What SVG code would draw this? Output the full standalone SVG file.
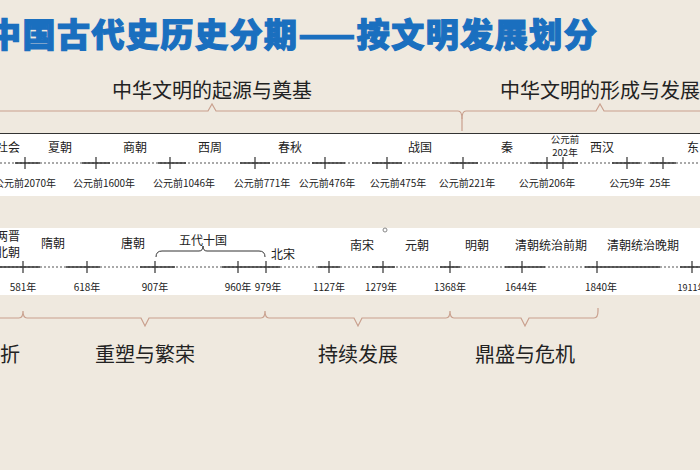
<svg xmlns="http://www.w3.org/2000/svg" width="700" height="470" viewBox="0 0 700 470">
<style>
.t{font-family:"Noto Sans CJK SC",sans-serif;fill:#222}
.nm{font-size:12px;text-anchor:middle}
.yr{font-size:10px;text-anchor:middle}
.sec{font-size:20px;text-anchor:middle}
.ax{stroke:#333;stroke-width:1.3}
.dot{stroke:#555;stroke-width:1.2;stroke-dasharray:2 2}
.tk{stroke:#333;stroke-width:1.2}
.br{fill:none;stroke:#c9a08e;stroke-width:1.2}
</style>
<rect width="700" height="470" fill="#efe9df"/>
<text x="-12" y="47" font-family="Noto Sans CJK SC,sans-serif" font-weight="900" font-size="33" letter-spacing="1.5" fill="#1a6fbf" stroke="#1a6fbf" stroke-width="1.2">中国古代史历史分期——按文明发展划分</text>
<g id="top-band">
<rect x="0" y="133" width="700" height="63" fill="#fff"/>
<line x1="0" y1="133.5" x2="700" y2="133.5" stroke="#333" stroke-width="1.2"/>
<line class="dot" x1="0" y1="163" x2="700" y2="163"/>
<path class="ax" d="M15 163H40M82 163H110M158 163H186M240 163H270M312 163H345M372 163H402M450 163H478M530 163H578M612 163H640M650 163H676"/>
<path class="tk" d="M25 157V169M96 157V169M170 157V169M255 157V169M325 157V169M387 157V169M463 157V169M547 157V169M563 157V169M627 157V169M663 157V169"/>
<g class="t nm">
<text x="8" y="152">社会</text><text x="60" y="152">夏朝</text><text x="135" y="152">商朝</text><text x="210" y="152">西周</text><text x="290" y="152">春秋</text><text x="420" y="152">战国</text><text x="507" y="152">秦</text><text x="565" y="143" font-size="9.5">公元前</text><text x="565" y="156" font-size="9.5">202年</text><text x="602" y="152">西汉</text><text x="693" y="152">东</text>
</g>
<g class="t yr">
<text x="25" y="187">公元前2070年</text><text x="104" y="187">公元前1600年</text><text x="184" y="187">公元前1046年</text><text x="262" y="187">公元前771年</text><text x="327" y="187">公元前476年</text><text x="398" y="187">公元前475年</text><text x="467" y="187">公元前221年</text><text x="547" y="187">公元前206年</text><text x="627" y="187">公元9年</text><text x="660" y="187">25年</text>
</g>
</g>
<g id="bottom-band">
<rect x="0" y="228" width="700" height="67" fill="#fff"/>
<line class="dot" x1="0" y1="267" x2="700" y2="267"/>
<path class="ax" d="M0 267H40M66 267H100M140 267H175M222 267H280M318 267H340M372 267H395M440 267H460M505 267H545M585 267H660M680 267H700"/>
<path class="tk" d="M23 261V273M87 261V273M155 261V273M238 261V273M266 261V273M329 261V273M383 261V273M450 261V273M522 261V273M597 261V273M692 261V273"/>
<path d="M156 257q0-6 6-6h37q4 0 4-5q0 5 4 5h52q6 0 6 6" fill="none" stroke="#333" stroke-width="1"/>
<circle cx="385" cy="230" r="2" fill="none" stroke="#888"/>
<g class="t nm">
<text x="8" y="241">两晋</text><text x="8" y="257">北朝</text><text x="53" y="248">隋朝</text><text x="133" y="248">唐朝</text><text x="203" y="245">五代十国</text><text x="283" y="259">北宋</text><text x="362" y="250">南宋</text><text x="417" y="250">元朝</text><text x="477" y="250">明朝</text><text x="551" y="250">清朝统治前期</text><text x="643" y="250">清朝统治晚期</text>
</g>
<g class="t yr">
<text x="23" y="291">581年</text><text x="87" y="291">618年</text><text x="155" y="291">907年</text><text x="238" y="291">960年</text><text x="268" y="291">979年</text><text x="329" y="291">1127年</text><text x="381" y="291">1279年</text><text x="450" y="291">1368年</text><text x="521" y="291">1644年</text><text x="601" y="291">1840年</text><text x="692" y="291" font-size="9">1911年</text>
</g>
</g>
<g id="brackets">
<path class="br" d="M0 111H208l4-7l4 7H458q4 0 4 8v12"/>
<path class="br" d="M462 119q0-8 4-8H596l4-7l4 7H700"/>
<path class="br" d="M0 318H19q4 0 4-7q0 7 4 7H141l4 8l4-8H261q4 0 4-7q0 7 4 7H354l4 8l4-8H446q4 0 4-7q0 7 4 7H521l4 8l4-8H594q4 0 4-7v-3"/>
</g>
<g id="sections" class="t sec">
<text x="212" y="98">中华文明的起源与奠基</text>
<text x="600" y="98">中华文明的形成与发展</text>
<text x="10" y="362">折</text>
<text x="145" y="362">重塑与繁荣</text>
<text x="358" y="362">持续发展</text>
<text x="525" y="362">鼎盛与危机</text>
</g>
</svg>
